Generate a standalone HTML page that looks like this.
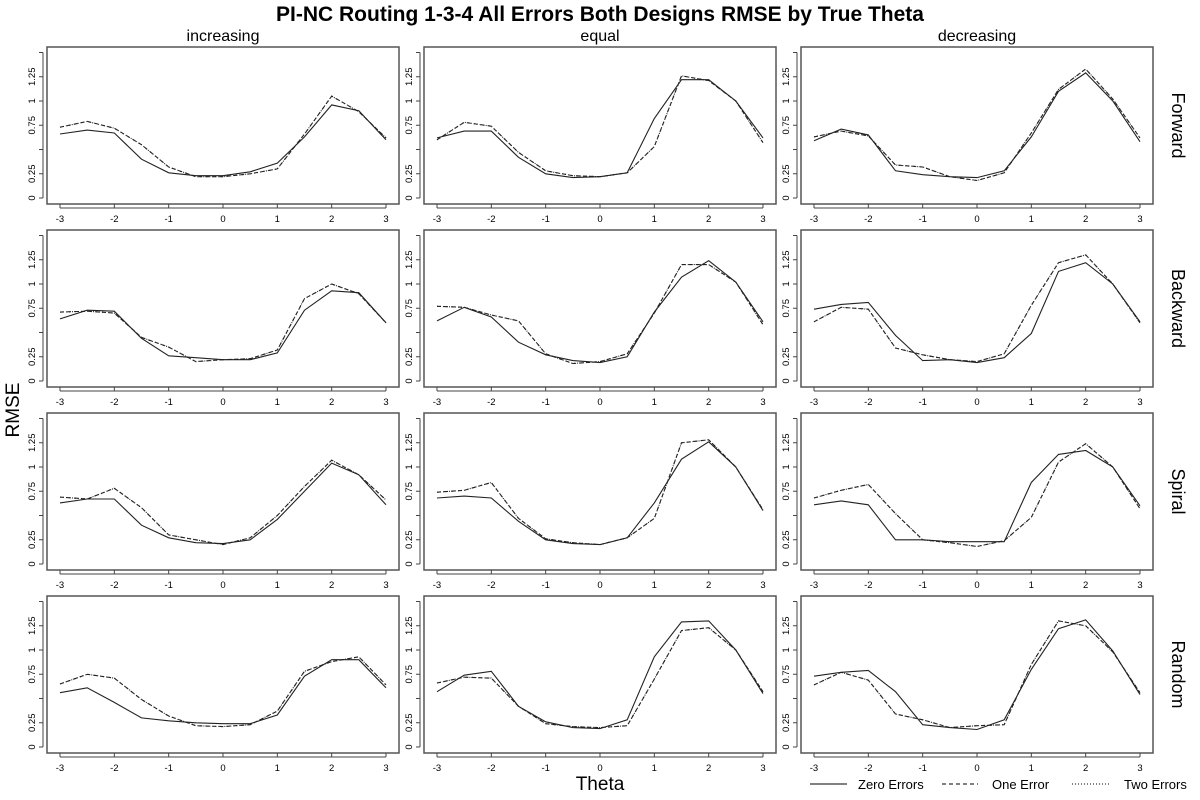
<!DOCTYPE html>
<html><head><meta charset="utf-8"><style>
body{margin:0;background:#fff;}
svg{display:block;font-family:"Liberation Sans",Arial,sans-serif;}
</style></head><body>
<svg id="chart" width="1200" height="800" viewBox="0 0 1200 800" xmlns="http://www.w3.org/2000/svg">
<text x="600" y="21" text-anchor="middle" font-size="21" font-weight="bold">PI-NC Routing 1-3-4 All Errors Both Designs RMSE by True Theta</text>
<text transform="translate(19,410) rotate(-90)" text-anchor="middle" font-size="19">RMSE</text>
<text x="600" y="790" text-anchor="middle" font-size="19">Theta</text>
<g>
<line x1="810" y1="784" x2="847" y2="784" stroke="#000" stroke-width="1"/>
<text x="858" y="789" font-size="13">Zero Errors</text>
<line x1="942" y1="784" x2="978" y2="784" stroke="#000" stroke-width="1" stroke-dasharray="4,3"/>
<text x="992" y="789" font-size="13">One Error</text>
<line x1="1072" y1="784" x2="1110" y2="784" stroke="#000" stroke-width="1" stroke-dasharray="1,2"/>
<text x="1124" y="789" font-size="13">Two Errors</text>
</g>
</svg>
<script>
const thetas=[-3,-2.5,-2,-1.5,-1,-0.5,0,0.5,1,1.5,2,2.5,3];
const colTitles=["increasing","equal","decreasing"];
const rowTitles=["Forward","Backward","Spiral","Random"];
const yTicks=[0,0.25,0.5,0.75,1,1.25,1.5];
const yTickLabels=["0","0.25","","0.75","1","1.25",""];
const xTicks=[-3,-2,-1,0,1,2,3];
// zero errors, [row][col]
const zeroErr=[
[[0.66,0.70,0.67,0.40,0.26,0.23,0.23,0.27,0.36,0.63,0.96,0.90,0.60],
 [0.62,0.69,0.69,0.42,0.25,0.21,0.22,0.26,0.82,1.22,1.22,1.00,0.62],
 [0.59,0.71,0.65,0.28,0.24,0.22,0.21,0.28,0.63,1.10,1.29,1.00,0.58]],
[[0.64,0.73,0.72,0.44,0.26,0.24,0.22,0.22,0.29,0.73,0.93,0.91,0.60],
 [0.62,0.76,0.66,0.40,0.27,0.21,0.19,0.25,0.71,1.07,1.24,1.02,0.61],
 [0.74,0.79,0.81,0.47,0.21,0.22,0.19,0.24,0.49,1.13,1.22,1.00,0.61]],
[[0.63,0.67,0.67,0.40,0.27,0.22,0.21,0.25,0.46,0.75,1.04,0.92,0.61],
 [0.68,0.70,0.68,0.44,0.25,0.21,0.20,0.27,0.63,1.08,1.26,1.00,0.55],
 [0.61,0.65,0.61,0.25,0.25,0.23,0.23,0.23,0.84,1.13,1.17,1.00,0.60]],
[[0.56,0.61,0.46,0.30,0.27,0.25,0.24,0.24,0.33,0.73,0.90,0.90,0.61],
 [0.57,0.74,0.78,0.42,0.26,0.20,0.19,0.28,0.93,1.29,1.30,1.00,0.55],
 [0.73,0.77,0.79,0.57,0.23,0.20,0.18,0.28,0.80,1.22,1.31,0.99,0.54]]];
const oneErr=[
[[0.73,0.79,0.72,0.55,0.32,0.22,0.22,0.25,0.30,0.66,1.05,0.89,0.62],
 [0.60,0.78,0.74,0.47,0.28,0.23,0.22,0.26,0.53,1.26,1.21,1.00,0.57],
 [0.63,0.69,0.64,0.34,0.32,0.22,0.18,0.26,0.67,1.12,1.33,1.02,0.62]],
[[0.71,0.72,0.70,0.45,0.35,0.20,0.22,0.23,0.32,0.85,1.00,0.90,0.60],
 [0.77,0.76,0.68,0.62,0.28,0.18,0.20,0.28,0.70,1.20,1.20,1.02,0.58],
 [0.61,0.76,0.74,0.34,0.27,0.22,0.20,0.28,0.78,1.22,1.30,1.00,0.60]],
[[0.69,0.67,0.78,0.58,0.30,0.25,0.20,0.27,0.50,0.80,1.07,0.92,0.66],
 [0.74,0.76,0.84,0.47,0.26,0.22,0.20,0.27,0.47,1.25,1.28,1.00,0.56],
 [0.68,0.76,0.82,0.52,0.25,0.22,0.18,0.24,0.48,1.05,1.24,1.00,0.57]],
[[0.65,0.75,0.71,0.49,0.32,0.22,0.21,0.23,0.37,0.78,0.88,0.93,0.64],
 [0.66,0.72,0.71,0.42,0.24,0.21,0.20,0.22,0.70,1.20,1.23,1.00,0.57],
 [0.64,0.77,0.69,0.34,0.28,0.20,0.22,0.23,0.85,1.30,1.25,0.98,0.56]]];
const twoErr=[
[[0.73,0.79,0.72,0.55,0.32,0.22,0.22,0.25,0.30,0.66,1.05,0.89,0.62],
 [0.60,0.78,0.74,0.47,0.28,0.23,0.22,0.26,0.53,1.26,1.21,1.00,0.57],
 [0.63,0.69,0.64,0.34,0.32,0.22,0.18,0.26,0.67,1.12,1.33,1.02,0.62]],
[[0.71,0.72,0.70,0.45,0.35,0.20,0.22,0.23,0.32,0.85,1.00,0.90,0.60],
 [0.77,0.76,0.68,0.62,0.28,0.18,0.20,0.28,0.70,1.20,1.20,1.02,0.58],
 [0.61,0.76,0.74,0.34,0.27,0.22,0.20,0.28,0.78,1.22,1.30,1.00,0.60]],
[[0.69,0.67,0.78,0.58,0.30,0.25,0.20,0.27,0.50,0.80,1.07,0.92,0.66],
 [0.74,0.76,0.84,0.47,0.26,0.22,0.20,0.27,0.47,1.25,1.28,1.00,0.56],
 [0.68,0.76,0.82,0.52,0.25,0.22,0.18,0.24,0.48,1.05,1.24,1.00,0.57]],
[[0.65,0.75,0.71,0.49,0.32,0.22,0.21,0.23,0.37,0.78,0.88,0.93,0.64],
 [0.66,0.72,0.71,0.42,0.24,0.21,0.20,0.22,0.70,1.20,1.23,1.00,0.57],
 [0.64,0.77,0.69,0.34,0.28,0.20,0.22,0.23,0.85,1.30,1.25,0.98,0.56]]];

const NS="http://www.w3.org/2000/svg";
const svg=document.getElementById('chart');
function mk(tag,attrs,parent){const e=document.createElementNS(NS,tag);for(const k in attrs)e.setAttribute(k,attrs[k]);(parent||svg).appendChild(e);return e;}
const colLeft=[47,424,801], boxW=352, rowTop=[47,230,413,596], boxH=157;
for(let c=0;c<3;c++){
  const t=mk('text',{x:colLeft[c]+boxW/2,y:41,'text-anchor':'middle','font-size':'16'});
  
  
  t.textContent=colTitles[c];
}
for(let r=0;r<4;r++){
  const cy=rowTop[r]+boxH/2;
  const t=mk('text',{transform:`translate(1172,${cy}) rotate(90)`,'text-anchor':'middle','font-size':'18'});
  
  
  t.textContent=rowTitles[r];
}
for(let r=0;r<4;r++)for(let c=0;c<3;c++){
  const L=colLeft[c],T=rowTop[r];
  const g=mk('g',{});
  
  
  const xs=v=>L+13+(v+3)/6*326;
  const ys=v=>T+151-v*97;
  mk('rect',{x:L,y:T,width:boxW,height:boxH,fill:'none',stroke:'#555','stroke-width':1.5},g);
  // y axis
  const ya=mk('g',{},g);
  
  
  mk('line',{x1:L-4,y1:ys(0),x2:L-4,y2:ys(1.5),stroke:'#444','stroke-width':1},ya);
  yTicks.forEach((v,i)=>{
    mk('line',{x1:L-8,y1:ys(v),x2:L-4,y2:ys(v),stroke:'#444'},ya);
    if(yTickLabels[i]){const t=mk('text',{transform:`translate(${L-12},${ys(v)}) rotate(-90)`,'text-anchor':'middle','font-size':'9.5'},ya);t.textContent=yTickLabels[i];}
  });
  const xa=mk('g',{},g);
  
  
  mk('line',{x1:xs(-3),y1:T+boxH+4,x2:xs(3),y2:T+boxH+4,stroke:'#444'},xa);
  xTicks.forEach(v=>{
    mk('line',{x1:xs(v),y1:T+boxH,x2:xs(v),y2:T+boxH+4,stroke:'#444'},xa);
    const t=mk('text',{x:xs(v),y:T+boxH+18,'text-anchor':'middle','font-size':'9.5'},xa);t.textContent=String(v);
  });
  const series=[[twoErr,'1,2','two-errors'],[oneErr,'4,3','one-error'],[zeroErr,'','zero-errors']];
  series.forEach(([d,dash,nm])=>{
    const pts=thetas.map((th,i)=>xs(th).toFixed(1)+','+ys(d[r][c][i]).toFixed(1)).join(' ');
    const p=mk('polyline',{points:pts,fill:'none',stroke:'#222','stroke-width':1.1},g);
    if(dash)p.setAttribute('stroke-dasharray',dash);
    
    
  });
}
</script>
</body></html>
